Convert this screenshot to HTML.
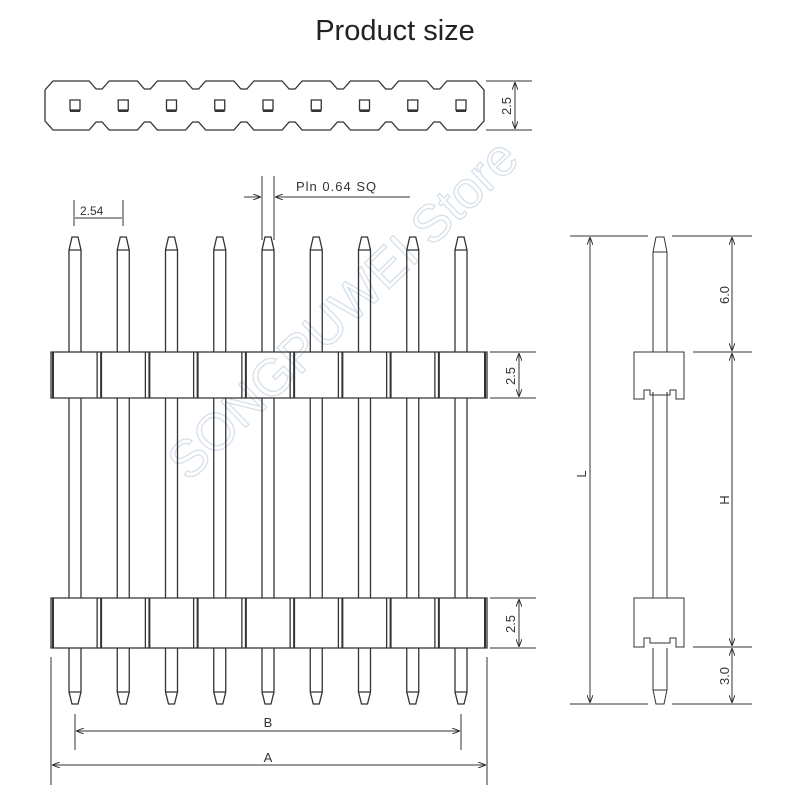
<!DOCTYPE html>
<html><head><meta charset="utf-8"><style>
html,body{margin:0;padding:0;background:#fff;width:800px;height:800px;overflow:hidden}
svg{display:block}
text{font-family:"Liberation Sans",sans-serif;fill:#333}
</style></head><body>
<svg width="800" height="800" viewBox="0 0 800 800" xmlns="http://www.w3.org/2000/svg">
<defs>
<marker id="ar" markerWidth="8" markerHeight="6" refX="8" refY="3" orient="auto-start-reverse" markerUnits="userSpaceOnUse"><path d="M0,0 L8,3 L0,6" fill="none" stroke="#333" stroke-width="1"/></marker>
</defs>
<text x="395" y="40" font-size="29" text-anchor="middle" style="fill:#222">Product size</text>

<text transform="translate(355,322) rotate(-44)" text-anchor="middle" font-size="52" style="fill:none;stroke:#d6e0ea;stroke-width:1.3">SONGPUWEI Store</text>

<g id="g" stroke="#333" stroke-width="1.3" fill="none"></g>
<g stroke="#333" stroke-width="1" fill="none">
<line x1="486" y1="81" x2="532" y2="81"/><line x1="486" y1="130" x2="532" y2="130"/>
<line x1="515" y1="82" x2="515" y2="129" marker-start="url(#ar)" marker-end="url(#ar)"/>
<line x1="74" y1="200" x2="74" y2="226"/><line x1="123" y1="200" x2="123" y2="226"/>
<line x1="75" y1="218" x2="122" y2="218"/>
<line x1="262" y1="176" x2="262" y2="240"/><line x1="274" y1="176" x2="274" y2="240"/>
<line x1="244" y1="197" x2="261" y2="197" marker-end="url(#ar)"/>
<line x1="410" y1="197" x2="275" y2="197" marker-end="url(#ar)"/>
<line x1="490" y1="352" x2="536" y2="352"/><line x1="490" y1="398" x2="536" y2="398"/>
<line x1="519" y1="353" x2="519" y2="397" marker-start="url(#ar)" marker-end="url(#ar)"/>
<line x1="490" y1="598" x2="536" y2="598"/><line x1="490" y1="648" x2="536" y2="648"/>
<line x1="519" y1="599" x2="519" y2="647" marker-start="url(#ar)" marker-end="url(#ar)"/>
<line x1="75" y1="714" x2="75" y2="750"/><line x1="461" y1="714" x2="461" y2="750"/>
<line x1="76" y1="731" x2="460" y2="731" marker-start="url(#ar)" marker-end="url(#ar)"/>
<line x1="51" y1="657" x2="51" y2="785"/><line x1="487" y1="657" x2="487" y2="785"/>
<line x1="52" y1="765" x2="486" y2="765" marker-start="url(#ar)" marker-end="url(#ar)"/>
<line x1="570" y1="236" x2="648" y2="236"/><line x1="672" y1="236" x2="752" y2="236"/>
<line x1="570" y1="704" x2="648" y2="704"/><line x1="672" y1="704" x2="752" y2="704"/>
<line x1="590" y1="237" x2="590" y2="703" marker-start="url(#ar)" marker-end="url(#ar)"/>
<line x1="693" y1="352" x2="752" y2="352"/><line x1="693" y1="647" x2="752" y2="647"/>
<line x1="732" y1="237" x2="732" y2="351" marker-start="url(#ar)" marker-end="url(#ar)"/>
<line x1="732" y1="353" x2="732" y2="646" marker-start="url(#ar)" marker-end="url(#ar)"/>
<line x1="732" y1="648" x2="732" y2="703" marker-start="url(#ar)" marker-end="url(#ar)"/>
<path d="M656,237 L664,237 L667,252 L667,352 M653,352 L653,252 L656,237 M653,252 L667,252"/>
<path d="M653,392 L653,598 M667,392 L667,598"/>
<path d="M653,648 L653,690 L656,704 L664,704 L667,690 L667,648 M653,690 L667,690"/>
<path d="M634,352 L684,352 L684,399 L676,399 L676,390 L670,390 L670,395 L650,395 L650,390 L644,390 L644,399 L634,399 Z"/>
<path d="M634,598 L684,598 L684,647 L676,647 L676,638 L670,638 L670,643 L650,643 L650,638 L644,638 L644,647 L634,647 Z"/>
</g>
<g font-size="13">
<text transform="translate(511,106) rotate(-90)" text-anchor="middle">2.5</text>
<text x="80" y="215" font-size="12">2.54</text>
<text x="296" y="191" letter-spacing="1">Pln 0.64 SQ</text>
<text transform="translate(515,376) rotate(-90)" text-anchor="middle">2.5</text>
<text transform="translate(515,624) rotate(-90)" text-anchor="middle">2.5</text>
<text x="268" y="727" text-anchor="middle">B</text>
<text x="268" y="762" text-anchor="middle">A</text>
<text transform="translate(586,474) rotate(-90)" text-anchor="middle">L</text>
<text transform="translate(729,295) rotate(-90)" text-anchor="middle">6.0</text>
<text transform="translate(729,500) rotate(-90)" text-anchor="middle">H</text>
<text transform="translate(729,676) rotate(-90)" text-anchor="middle">3.0</text>
</g>
<script>
(function(){
var ns="http://www.w3.org/2000/svg",g=document.getElementById('g');
function P(d,w){var p=document.createElementNS(ns,'path');p.setAttribute('d',d);if(w)p.setAttribute('stroke-width',w);g.appendChild(p);}
var xs=[],i;for(i=0;i<9;i++)xs.push(75+i*48.25);
var d="M53,81 ";
for(i=0;i<8;i++){var m=(xs[i]+xs[i+1])/2;d+="L"+(m-10)+",81 L"+(m-3)+",89 L"+(m+3)+",89 L"+(m+10)+",81 ";}
d+="L476,81 L484,90 L484,121 L476,130 ";
for(i=7;i>=0;i--){var m=(xs[i]+xs[i+1])/2;d+="L"+(m+10)+",130 L"+(m+3)+",122 L"+(m-3)+",122 L"+(m-10)+",130 ";}
d+="L53,130 L45,121 L45,90 Z";P(d);
xs.forEach(function(x){P("M"+(x-5)+",100 h10 v10 h-10 Z");P("M"+(x-5)+",111 h10",2);});
xs.forEach(function(x){
P("M"+(x-6)+",352 L"+(x-6)+",250 L"+(x-3)+",237 L"+(x+3)+",237 L"+(x+6)+",250 L"+(x+6)+",352 M"+(x-6)+",250 L"+(x+6)+",250");
P("M"+(x-6)+",398 L"+(x-6)+",598 M"+(x+6)+",398 L"+(x+6)+",598");
P("M"+(x-6)+",648 L"+(x-6)+",692 L"+(x-3)+",704 L"+(x+3)+",704 L"+(x+6)+",692 L"+(x+6)+",648 M"+(x-6)+",692 L"+(x+6)+",692");
});
[[352,398],[598,648]].forEach(function(b){
P("M51,"+b[0]+" L487,"+b[0]+" L487,"+b[1]+" L51,"+b[1]+" Z");
P("M53,"+b[0]+" L53,"+b[1],2);P("M485,"+b[0]+" L485,"+b[1],2);
for(i=0;i<8;i++){var m=(xs[i]+xs[i+1])/2;P("M"+(m-2)+","+b[0]+" L"+(m-2)+","+b[1]);P("M"+(m+2)+","+b[0]+" L"+(m+2)+","+b[1],2);}
});
})();
</script>
</svg>
</body></html>
